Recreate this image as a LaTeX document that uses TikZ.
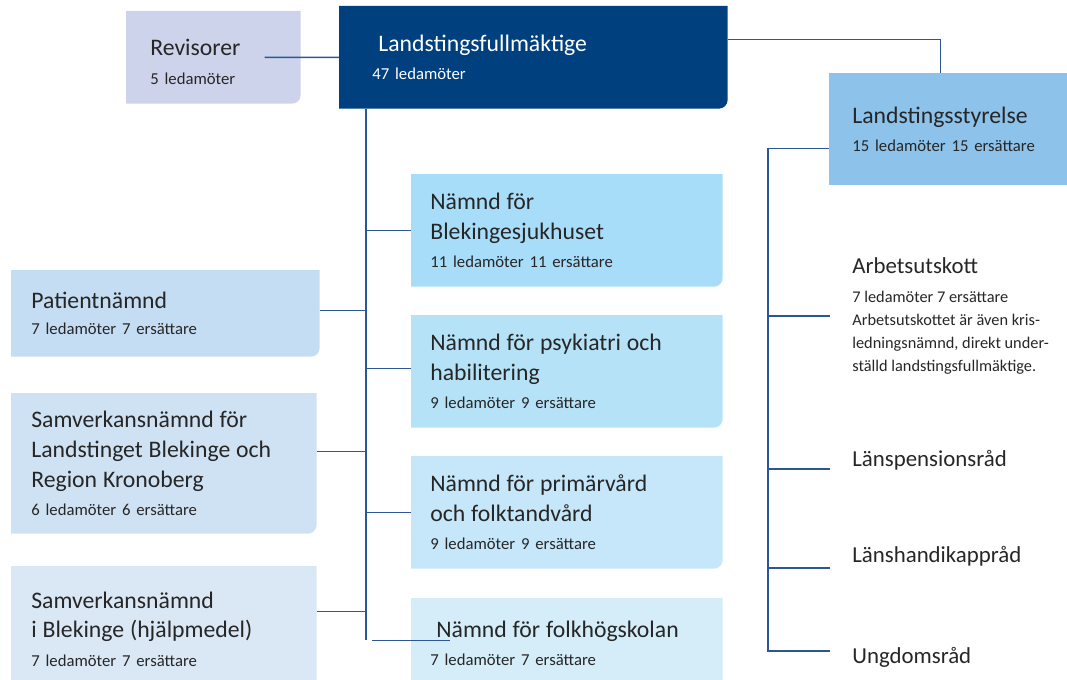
\documentclass[tikz,border=0pt]{standalone}
\usepackage{fontspec}
\setmainfont{Carlito}
\usetikzlibrary{backgrounds}

\definecolor{linkcol}{HTML}{2B5797}
\definecolor{txt}{HTML}{262626}
\definecolor{revcol}{HTML}{CDD3EB}
\definecolor{lfcol}{HTML}{00407F}
\definecolor{lscol}{HTML}{8DC3EA}
\definecolor{blekcol}{HTML}{A8DDF9}
\definecolor{psykcol}{HTML}{B6E2F8}
\definecolor{primcol}{HTML}{C5E7F9}
\definecolor{folkcol}{HTML}{D5EDF9}
\definecolor{patcol}{HTML}{C5DDF2}
\definecolor{lbcol}{HTML}{CFE2F4}
\definecolor{ibcol}{HTML}{DAE8F6}

\newcommand\boxtitle{\fontsize{13.5}{17}\selectfont}
\newcommand\boxsub{\fontsize{9.5}{17}\selectfont}

\tikzset{
  orgbox/.style={anchor=north west, inner ysep=0pt, inner xsep=0.4cm, align=left, text=txt},
  plain/.style={anchor=west, inner ysep=0pt, inner xsep=0.44cm, align=left, text=txt},
  link/.style={draw=linkcol, line width=0.9pt}
}

\begin{document}
\begin{tikzpicture}[x=0.02cm, y=-0.02cm]
    \useasboundingbox (0,0) rectangle (1067,679);
    \clip (0,0) rectangle (1067,679);

    % top row
    \node [orgbox, inner xsep=0.48cm, text width=2.52cm, minimum height=1.84cm] (rev) at (126,11)
        {\boxtitle\rule{0pt}{14.5pt}Revisorer\\[4pt]\boxsub 5 ledamöter};
    \node [orgbox, inner xsep=0.66cm, text width=6.44cm, minimum height=2.04cm, text=white] (lf) at (339,6)
        {\boxtitle\hspace*{0.12cm}Landstingsfullmäktige\\[4pt]\boxsub 47 ledamöter};
    \node [orgbox, inner xsep=0.46cm, text width=3.84cm, minimum height=2.24cm, fill=lscol] (ls) at (829,73)
        {\boxtitle Landstingsstyrelse\\[4pt]\boxsub 15 ledamöter 15 ersättare};

    % boxes right of the trunk
    \node [orgbox, inner xsep=0.38cm, text width=5.46cm, minimum height=2.24cm] (blek) at (411,174)
        {\boxtitle Nämnd för\\Blekingesjukhuset\\[4pt]\boxsub 11 ledamöter 11 ersättare};
    \node [orgbox, inner xsep=0.38cm, text width=5.46cm, minimum height=2.24cm] (psyk) at (411,315)
        {\boxtitle Nämnd för psykiatri och\\habilitering\\[4pt]\boxsub 9 ledamöter 9 ersättare};
    \node [orgbox, inner xsep=0.38cm, text width=5.46cm, minimum height=2.24cm] (prim) at (411,456)
        {\boxtitle Nämnd för primärvård\\och folktandvård\\[4pt]\boxsub 9 ledamöter 9 ersättare};
    \node [orgbox, inner xsep=0.38cm, text width=5.46cm, minimum height=1.8cm] (folk) at (411,598)
        {\boxtitle\hspace*{0.12cm}Nämnd för folkhögskolan\\[4pt]\boxsub 7 ledamöter 7 ersättare};

    % boxes left of the trunk
    \node [orgbox, text width=5.36cm, minimum height=1.72cm] (pat) at (11,270)
        {\boxtitle Patientnämnd\\[3pt]\fontsize{9.5}{16}\selectfont 7 ledamöter 7 ersättare};
    \node [orgbox, text width=5.3cm, minimum height=2.8cm] (lb) at (11,393)
        {\boxtitle Samverkansnämnd för\\Landstinget Blekinge och\\Region Kronoberg\\[4pt]\boxsub 6 ledamöter 6 ersättare};
    \node [orgbox, text width=5.3cm, minimum height=2.5cm] (ib) at (11,566)
        {\boxtitle Samverkansnämnd\\i Blekinge (hjälpmedel)\\[4pt]\boxsub 7 ledamöter 7 ersättare};

    % under the styrelse
    \node [plain, font=\fontsize{9.3}{13.2}\selectfont] (arb) at (830,316)
        {{\fontsize{13}{17}\selectfont Arbetsutskott}\\[3.2pt]7 ledamöter 7 ersättare\\Arbetsutskottet är även kris-\\ledningsnämnd, direkt under-\\ställd landstingsfullmäktige.};
    \node [plain, font=\fontsize{13}{17}\selectfont] (pens) at (830,460) {Länspensionsråd};
    \node [plain, font=\fontsize{13}{17}\selectfont] (handik) at (830,556) {Länshandikappråd};
    \node [plain, font=\fontsize{13}{17}\selectfont] (ung) at (830,657) {Ungdomsråd};

    % fills, only the lower right corner rounded
    \begin{scope}[on background layer]
        \foreach \n/\c in {rev/revcol,lf/lfcol,blek/blekcol,psyk/psykcol,prim/primcol,folk/folkcol,pat/patcol,lb/lbcol,ib/ibcol}
            \fill [\c] (\n.north west) -- (\n.north east) [rounded corners=5pt] -- (\n.south east) [sharp corners] -- (\n.south west) -- cycle;
    \end{scope}

    \coordinate (ctrunk) at (366,0);
    \coordinate (rtrunk) at (768,0);

    % connectors
    \draw [link] ([xshift=-0.72cm]rev.east) -- (lf.west);
    \draw [link] ([yshift=0.36cm]lf.east) -| ([xshift=-0.16cm]ls.north);
    \draw [link] (lf.south -| ctrunk) -- ([yshift=0.06cm]folk.west -| ctrunk);
    \draw [link] ([xshift=-0.78cm,yshift=0.06cm]folk.west) -- ([xshift=0.78cm,yshift=0.06cm]folk.west);
    \foreach \n/\s in {pat/0.06,lb/0.24,ib/0.35}
        \draw [link] ([yshift=\s cm]\n.east) -- ([yshift=\s cm]\n.east -| ctrunk);
    \foreach \n/\s in {blek/0,psyk/0.06,prim/0}
        \draw [link] ([yshift=\s cm]\n.west) -- ([yshift=\s cm]\n.west -| ctrunk);
    \draw [link] ([yshift=-0.38cm]ls.west) -| ([yshift=0.12cm]ung.west -| rtrunk) -- ([yshift=0.12cm]ung.west);
    \foreach \n/\s in {arb/0,pens/-0.18,handik/-0.24}
        \draw [link] ([yshift=\s cm]\n.west) -- ([yshift=\s cm]\n.west -| rtrunk);
\end{tikzpicture}
\end{document}
